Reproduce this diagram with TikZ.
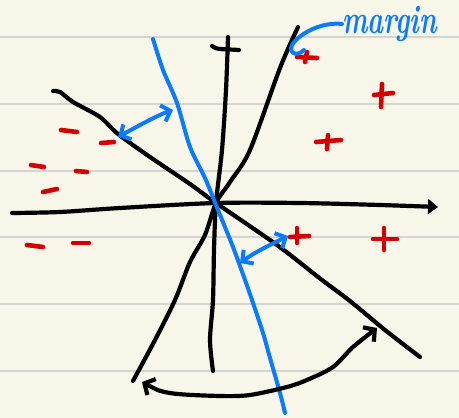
\documentclass[tikz,border=0pt]{standalone}
\usetikzlibrary{arrows.meta}
\definecolor{paper}{RGB}{248,246,233}
\definecolor{ruling}{RGB}{212,212,208}
\definecolor{bluepen}{RGB}{10,122,255}
\definecolor{redpen}{RGB}{215,0,0}
\begin{document}
\begin{tikzpicture}[x=1pt,y=-1pt,
  inkblack/.style={draw=black,line width=4.2pt,line cap=round,line join=round},
  inkblue/.style={draw=bluepen,line width=4pt,line cap=round,line join=round},
  inkred/.style={draw=redpen,line width=4.6pt,line cap=round},
  ruleline/.style={draw=ruling,line width=1.6pt}]
\fill[paper] (0,0) rectangle (459,418);
\useasboundingbox (0,0) rectangle (459,418);
% ruled lines
\foreach \yy in {37,104,171,237,304,371}
  \draw[ruleline] (0,\yy) -- (459,\yy);
\coordinate (o) at (216,203);
% red signs
\foreach \ax/\ay/\bx/\by in {61/130/77/132,101/143/114/142,31/165/44/167,76/171/87/172,43/192/57/189,27/245/43/247,73/243/89/243}
  \draw[inkred] (\ax,\ay) -- (\bx,\by);
\foreach \hx/\hy/\ix/\iy/\vx/\vy/\wx/\wy in {
  297/57/317/58/307/52/305/62,
  374/95/393/93/382/84/381/107,
  316/142/341/140/328/135/327/149,
  290/237/309/236/297/228/297/243,
  373/239/397/239/384/228/384/250}{
  \draw[inkred] (\hx,\hy) -- (\ix,\iy);
  \draw[inkred] (\vx,\vy) -- (\wx,\wy);
}
% black lines through the origin
\draw[inkblack] plot[smooth,tension=0.5] coordinates {(53,91) (60,92) (73,102) (100,117) (118,134) (150,157) (190,184) (o) (277,245) (322,280) (350,301) (385,330) (420,357)};
\draw[inkblack] plot[smooth,tension=0.5] coordinates {(298,27) (280,68) (250,150) (230,182) (o) (205,235) (190,262) (175,300) (155,340) (133,381)};
\draw[inkblack] plot[smooth,tension=0.5] coordinates {(228,37) (226,90) (222,150) (o) (214,250) (213,300) (210,340) (213,371)};
\draw[inkblack] (212,46) .. controls (216,50) and (225,49) .. (239,50);
\draw[inkblack,-{Triangle[length=10pt,width=15pt]}] plot[smooth,tension=0.5] coordinates {(12,213) (60,212) (120,208) (o) (300,203) (380,205) (438,207)};
% blue separating line
\draw[inkblue] plot[smooth,tension=0.5] coordinates {(153,39) (163,70) (177,103) (190,147) (205,178) (218,210) (233,247) (245,280) (252,300) (263,333) (270,358) (280,393) (285,413)};
% blue margin arrows
\coordinate (ua) at (118,137);
\coordinate (ub) at (173,110);
\draw[inkblue,{Straight Barb[length=8pt,width=17pt]}-{Straight Barb[length=8pt,width=17pt]}] (ua) .. controls (140,125) and (158,115) .. (ub);
\coordinate (la) at (240,263);
\coordinate (lb) at (288,236);
\draw[inkblue,{Straight Barb[length=8pt,width=17pt]}-{Straight Barb[length=8pt,width=17pt]}] (la) .. controls (255,252) and (272,244) .. (lb);
% margin label
\node[text=bluepen,font=\fontsize{27}{27}\selectfont\bfseries\itshape,inner sep=0pt,anchor=west] (margin) at (342,24) {\scalebox{1}[1.5]{margin}};
\draw[inkblue] (margin.west) .. controls (325,22) and (305,30) .. (294,42) .. controls (286,52) and (296,58) .. (304,50);
% bottom curved arrow
\coordinate (ca) at (142,382);
\coordinate (cb) at (377,328);
\draw[inkblack,{Straight Barb[length=8pt,width=18pt]}-{Straight Barb[length=8pt,width=18pt]}] plot[smooth,tension=0.5] coordinates {(ca) (170,393) (220,396) (250,395) (287,387) (307,380) (333,367) (353,347) (cb)};
\end{tikzpicture}
\end{document}
